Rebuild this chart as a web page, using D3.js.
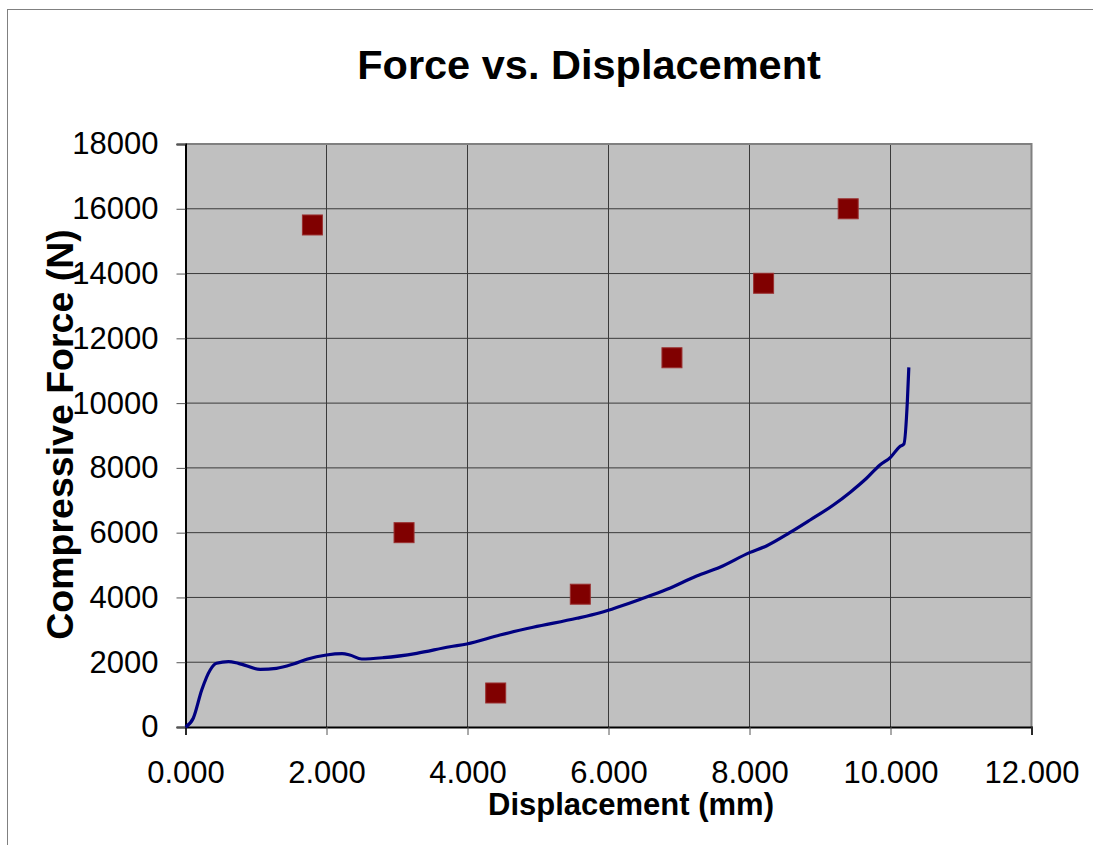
<!DOCTYPE html>
<html>
<head>
<meta charset="utf-8">
<script src="https://cdn.jsdelivr.net/npm/d3@7"></script>
<style>
  body { margin: 0; background: #fff; }
  text { font-family: "Liberation Sans", Arial, sans-serif; }
</style>
</head>
<body>
<div id="chart"></div>
<script>
// measured curve (displacement mm, force N)
var curveDisp  = [0, 0.11, 0.23, 0.35, 0.44, 0.61, 0.75, 1.06, 1.29, 1.53, 1.72, 2.0, 2.22, 2.33, 2.50, 2.81, 3.28, 3.75, 3.99, 4.46, 4.93, 5.55, 5.88, 6.49, 6.83, 7.25, 7.58, 8.0, 8.24, 8.57, 8.86, 9.19, 9.43, 9.66, 9.85, 10.0, 10.13, 10.19, 10.24, 10.26];
var curveForce = [0, 269, 1142, 1760, 1966, 2016, 1966, 1781, 1812, 1945, 2090, 2223, 2263, 2223, 2099, 2140, 2275, 2479, 2563, 2840, 3078, 3356, 3529, 3973, 4251, 4662, 4931, 5383, 5590, 5998, 6391, 6854, 7250, 7679, 8089, 8327, 8654, 8737, 10095, 11105];

// square markers
var pointDisp  = [1.8, 3.1, 4.4, 5.6, 6.9, 8.2, 9.4];
var pointForce = [15500, 6000, 1050, 4100, 11400, 13700, 16000];

var xTicks = [0, 2, 4, 6, 8, 10, 12];
var yTicks = [0, 2000, 4000, 6000, 8000, 10000, 12000, 14000, 16000, 18000];

var W = 1093, H = 845;
var plot = {left: 185.5, top: 144, right: 1031.5, bottom: 727};

var svg = d3.select("#chart")
  .append("svg")
    .attr("width", W)
    .attr("height", H);

// chart area border
svg.append("rect")
  .attr("x", 7.5).attr("y", 9.5)
  .attr("width", W + 20).attr("height", H + 20)
  .attr("fill", "#fff")
  .attr("stroke", "#808080")
  .attr("stroke-width", 1);

var x = d3.scaleLinear().domain([0, 12]).range([plot.left, plot.right]);
var y = d3.scaleLinear().domain([0, 18000]).range([plot.bottom, plot.top]);

// plot background
svg.append("rect")
  .attr("x", plot.left).attr("y", plot.top)
  .attr("width", plot.right - plot.left)
  .attr("height", plot.bottom - plot.top)
  .attr("fill", "#c0c0c0");

// gridlines
svg.append("g").selectAll("line.h")
  .data(yTicks.slice(1, -1))
  .enter().append("line")
    .attr("x1", plot.left).attr("x2", plot.right)
    .attr("y1", d => y(d)).attr("y2", d => y(d))
    .attr("stroke", "#3a3a3a").attr("stroke-width", 1);
svg.append("g").selectAll("line.v")
  .data(xTicks.slice(1, -1))
  .enter().append("line")
    .attr("y1", plot.top).attr("y2", plot.bottom)
    .attr("x1", d => x(d)).attr("x2", d => x(d))
    .attr("stroke", "#3a3a3a").attr("stroke-width", 1);

// top / right border (gray)
svg.append("path")
  .attr("d", "M" + plot.left + "," + plot.top + "H" + plot.right + "V" + plot.bottom)
  .attr("fill", "none")
  .attr("stroke", "#808080")
  .attr("stroke-width", 2);

// axes
var xAxis = d3.axisBottom(x).tickValues(xTicks).tickSize(8).tickPadding(26)
  .tickFormat(d3.format(".3f"));
var gx = svg.append("g")
  .attr("transform", "translate(0," + plot.bottom + ")")
  .call(xAxis);
gx.select(".domain").attr("stroke", "#000").attr("stroke-width", 2);
gx.selectAll(".tick line").attr("stroke", "#555");
gx.selectAll(".tick text")
  .attr("font-size", "31px")
  .attr("font-family", "'Liberation Sans', Arial, sans-serif")
  .attr("fill", "#000");

var yAxis = d3.axisLeft(y).tickValues(yTicks).tickSize(9).tickPadding(18)
  .tickFormat(d3.format("d"));
var gy = svg.append("g")
  .attr("transform", "translate(" + plot.left + ",0)")
  .call(yAxis);
gy.select(".domain").attr("stroke", "#000").attr("stroke-width", 2);
gy.selectAll(".tick line").attr("stroke", "#555");
gy.selectAll(".tick text")
  .attr("font-size", "31px")
  .attr("font-family", "'Liberation Sans', Arial, sans-serif")
  .attr("fill", "#000");

// force curve
var line = d3.line()
  .x(i => x(curveDisp[i]))
  .y(i => y(curveForce[i]))
  .curve(d3.curveMonotoneX);
svg.append("path")
  .attr("d", line(d3.range(curveDisp.length)))
  .attr("fill", "none")
  .attr("stroke", "#000080")
  .attr("stroke-width", 3.2)
  .attr("stroke-linejoin", "round");

// markers
var sq = 20;
svg.append("g").selectAll("rect")
  .data(d3.range(pointDisp.length))
  .enter().append("rect")
    .attr("x", i => x(pointDisp[i]) - sq / 2)
    .attr("y", i => y(pointForce[i]) - sq / 2)
    .attr("width", sq).attr("height", sq)
    .attr("fill", "#800000")
    .attr("stroke", "#9a3030")
    .attr("stroke-width", 1);

// titles
svg.append("text")
  .attr("x", 589).attr("y", 79)
  .attr("text-anchor", "middle")
  .attr("font-size", "41.5px")
  .attr("font-weight", "bold")
  .text("Force vs. Displacement");

svg.append("text")
  .attr("x", 631).attr("y", 815)
  .attr("text-anchor", "middle")
  .attr("font-size", "31px")
  .attr("font-weight", "bold")
  .text("Displacement (mm)");

svg.append("text")
  .attr("transform", "translate(73," + ((plot.top + plot.bottom) / 2 - 1) + ") rotate(-90)")
  .attr("text-anchor", "middle")
  .attr("font-size", "37.5px")
  .attr("font-weight", "bold")
  .text("Compressive Force (N)");
</script>
</body>
</html>
